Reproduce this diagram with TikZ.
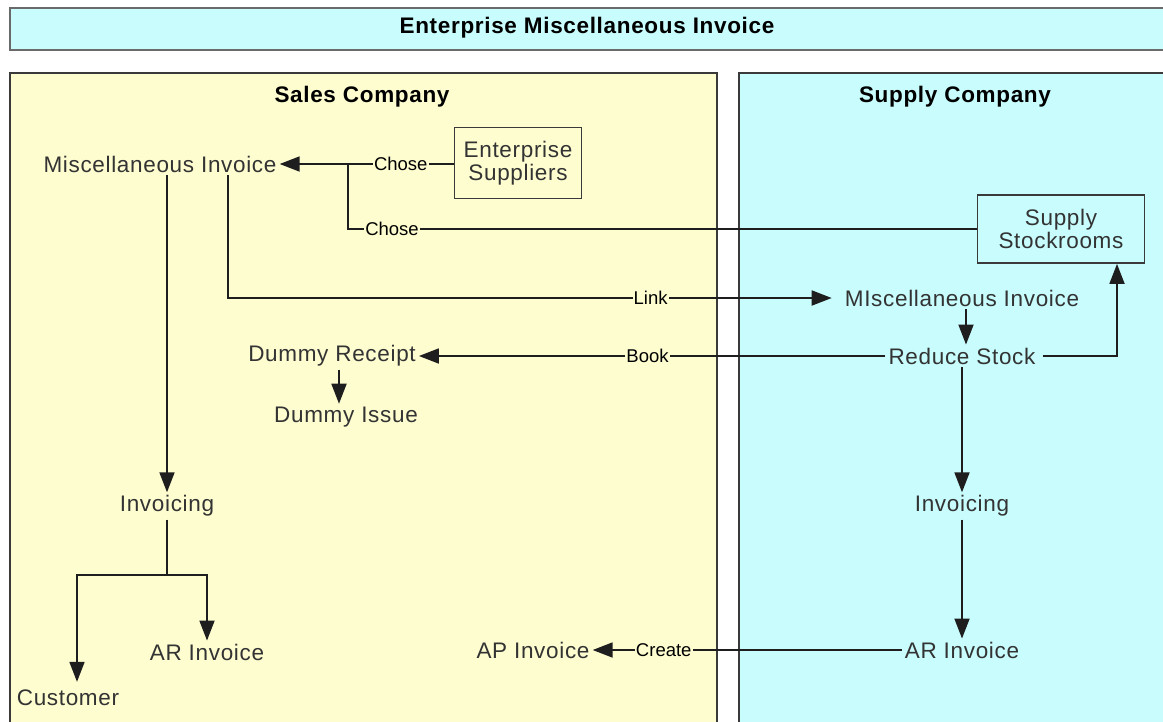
\documentclass[tikz,border=0pt]{standalone}
\usepackage{fontspec}
\setmainfont{Liberation Sans}
\newfontfamily\spacedsans[LetterSpace=3]{Liberation Sans}
\newfontfamily\spacedbold[LetterSpace=3]{Liberation Sans Bold}
\usetikzlibrary{arrows.meta}

\definecolor{salesbg}{HTML}{FEFDD0}
\definecolor{supplybg}{HTML}{C8FCFD}
\definecolor{framegray}{HTML}{3A3A3A}
\definecolor{titleframe}{HTML}{6A6A6A}
\definecolor{inkgray}{HTML}{333333}
\definecolor{wiregray}{HTML}{1E1E1E}

\tikzset{
  txt/.style={font=\fontsize{22.5}{25}\selectfont\spacedsans, text=inkgray, inner sep=3pt},
  heading/.style={font=\fontsize{22.5}{25}\selectfont\spacedbold, text=black, inner sep=2pt},
  boxnode/.style={txt, draw=framegray, line width=1.8pt, align=center},
  lbl/.style={font=\fontsize{18.5}{20}\selectfont, text=black, fill=salesbg, inner sep=1pt},
  wire/.style={draw=wiregray, line width=1.8pt},
  arr/.style={wire, -{Triangle[length=20pt,width=15pt]}},
}

\begin{document}
\begin{tikzpicture}[x=1pt,y=-1pt]
\useasboundingbox (0,0) rectangle (1163,721);
\fill[white] (0,0) rectangle (1163,721);

% banner
\draw[fill=supplybg, draw=titleframe, line width=2.2pt] (10,8) rectangle (1190,50);
\node[heading] (title) at (587,28) {Enterprise Miscellaneous Invoice};

% company panels
\fill[salesbg] (10,73) rectangle (717,740);
\draw[framegray, line width=2pt] (10,740) -- (10,73) -- (717,73) -- (717,740);
\fill[supplybg] (739,73) rectangle (1190,740);
\draw[framegray, line width=2pt] (739,740) -- (739,73) -- (1190,73);
\node[heading] (salesttl) at (362,97) {Sales Company};
\node[heading] (supplyttl) at (955,97) {Supply Company};

% sales company steps
\node[txt] (smi) at (160,164) {Miscellaneous Invoice};
\node[boxnode, minimum width=127pt, minimum height=71pt] (es) at (518,163) {Enterprise\\[-2pt]Suppliers};
\node[txt] (dr) at (332,356) {Dummy Receipt};
\node[txt] (di) at (346,417) {Dummy Issue};
\node[txt] (inv1) at (167,506) {Invoicing};
\node[txt] (ar1) at (207,652) {AR Invoice};
\node[txt] (cust) at (68,698) {Customer};
\node[txt] (ap) at (533,650) {AP Invoice};

% supply company steps
\node[boxnode, fill=supplybg, minimum width=167pt, minimum height=68pt] (ss) at (1061,229) {Supply\\[-2pt]Stockrooms};
\node[txt] (smi2) at (962,298) {MIscellaneous Invoice};
\node[txt] (rs) at (962,356) {Reduce Stock};
\node[txt] (inv2) at (962,506) {Invoicing};
\node[txt] (ar2) at (962,650) {AR Invoice};

% choosing the supplier
\coordinate (cj) at (348,164);
\coordinate (cj2) at (348,229);
\draw[wire] (es.west |- cj) -- node[lbl]{Chose} (cj);
\draw[arr] (cj) -- (smi.east);
\draw[wire] (ss.west) -- node[lbl, pos=0.93]{Chose} (cj2) -- (cj);

% link to the supply side
\draw[arr] ([xshift=68pt]smi.south) |- node[lbl, pos=0.85]{Link} ([xshift=-10pt]smi2.west);
\draw[arr] ([xshift=4pt]smi2.south) -- ([xshift=4pt]rs.north);
\draw[arr] ([xshift=4pt]rs.east) -| ([xshift=56pt]ss.south);
\draw[arr] (rs.west) -- node[lbl, pos=0.51]{Book} (rs.west -| dr.east);
\draw[arr] ([xshift=7pt]dr.south) -- ([xshift=7pt]dr.south |- di.north);

% invoicing on both sides
\draw[arr] (smi.south -| inv1.north) -- (inv1.north);
\coordinate (fork) at (167,575);
\draw[wire] (inv1.south) -- (fork);
\draw[arr] (fork) -| ([xshift=9pt,yshift=5pt]cust.north);
\draw[arr] (fork) -| (ar1.north);
\draw[arr] (rs.south) -- (inv2.north);
\draw[arr] (inv2.south) -- (ar2.north);
\draw[arr] (ar2.west) -- node[lbl, pos=0.77]{Create} (ar2.west -| ap.east);
\end{tikzpicture}
\end{document}
